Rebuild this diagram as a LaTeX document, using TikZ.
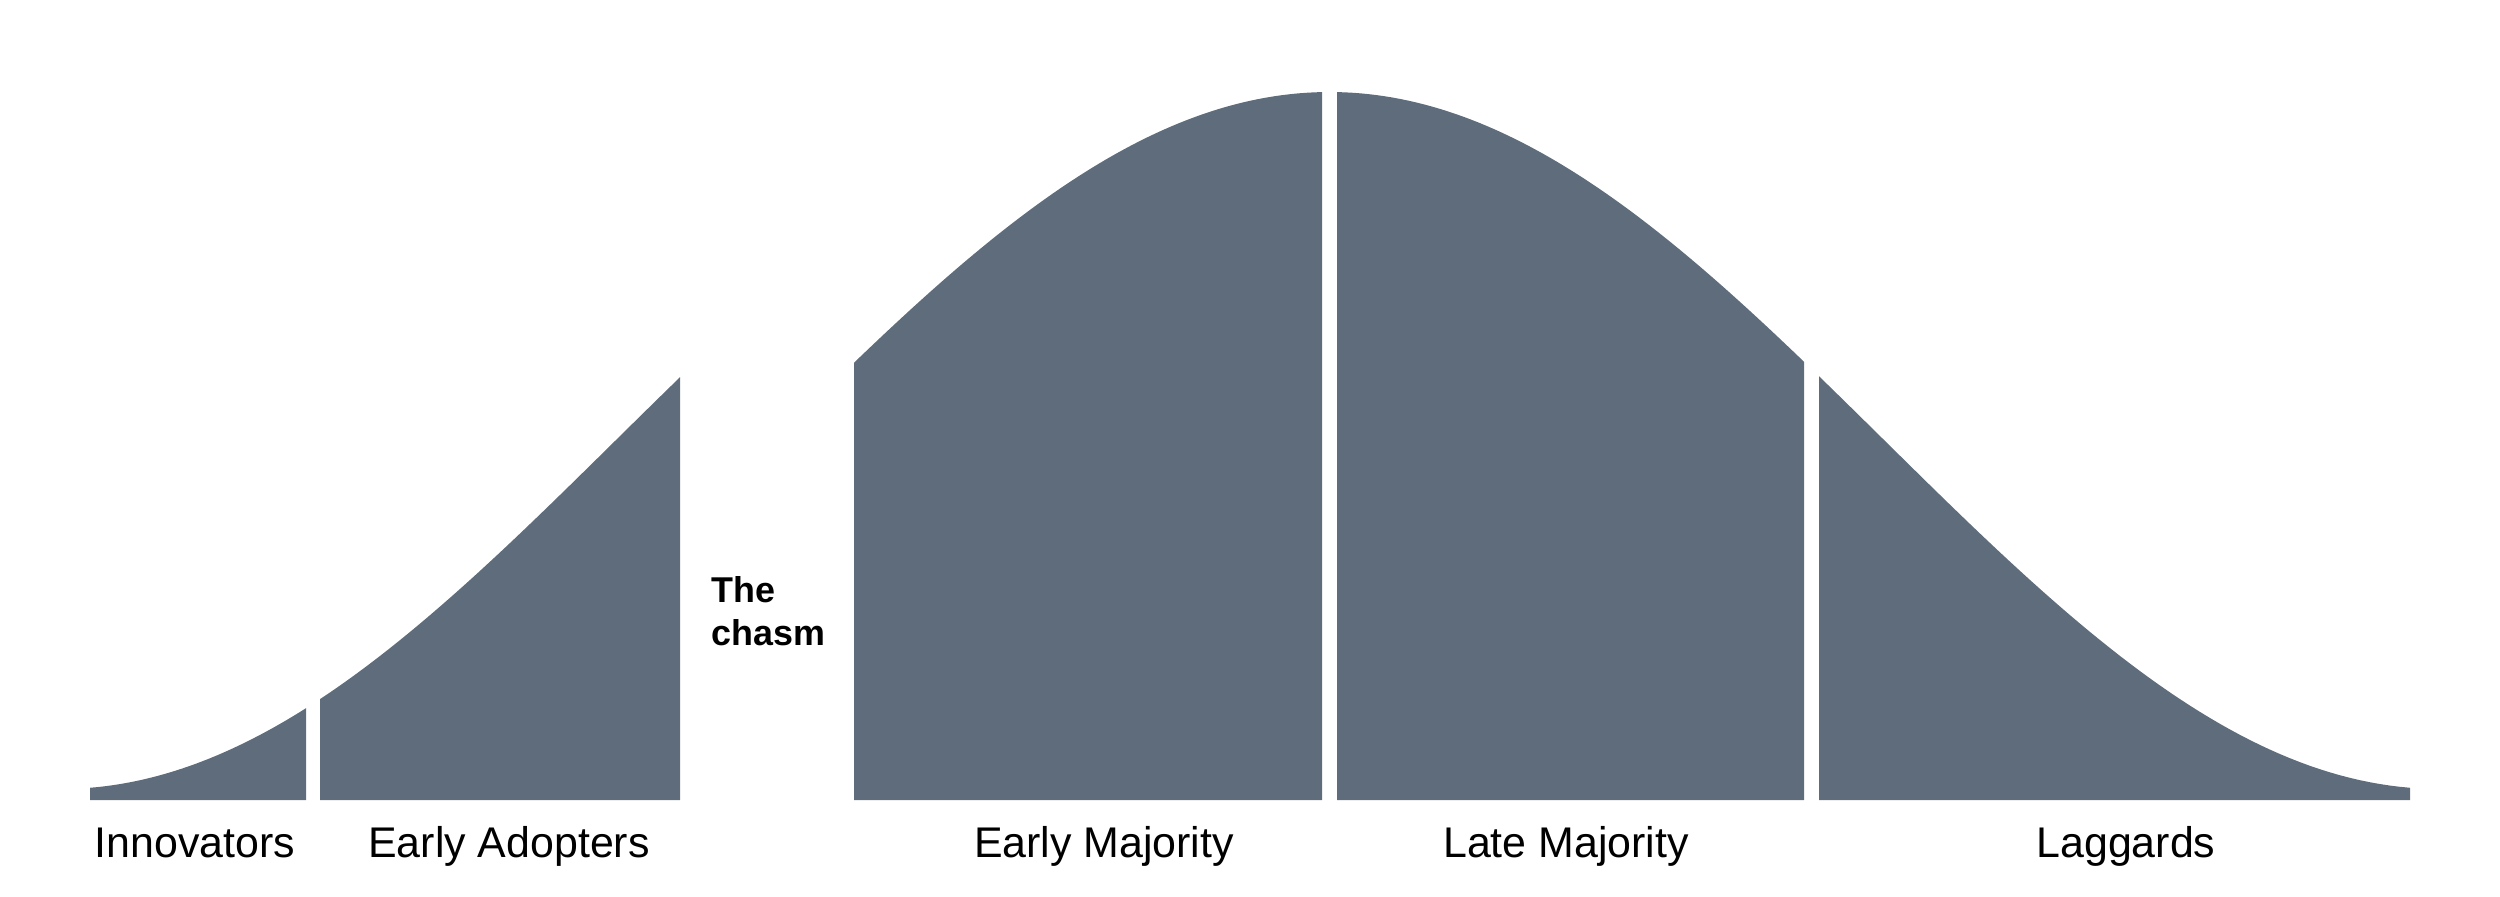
\documentclass[tikz,border=0pt]{standalone}
\usepackage{fontspec}
\setmainfont{Liberation Sans}
\usetikzlibrary{positioning}
\definecolor{slate}{HTML}{5E6C7B}

\begin{document}
\begin{tikzpicture}[
        x=0.01cm, y=-0.01cm,
        declare function={bell(\u)=789-348.5*(1+cos((\u-1329.5)/1110*180));},
        segment/.style={fill=slate},
        group/.style={font=\fontsize{12.2}{14}\selectfont, anchor=base},
        chasm/.style={font=\fontsize{10.2}{12.2}\selectfont\bfseries, align=left, anchor=base west, inner sep=0pt}
    ]
        \useasboundingbox (0,0) rectangle (2500,897);
        % segments of the curve: from / to / shift across the chasm
        \foreach \a/\b/\s in {90/306/159, 320/680/159, 854/1322/0, 1337/1804/0, 1819/2410/0}
            \fill[segment] (\a,800) -- plot[domain=\a:\b, samples=60] (\x, {bell(\x+\s)}) -- (\b,800) -- cycle;

        \node[group] (inno)  at (195,857)  {Innovators};
        \node[group] (early) at (509,857)  {Early Adopters};
        \node[group] (emaj)  at (1104,857) {Early Majority};
        \node[group] (lmaj)  at (1566,857) {Late Majority};
        \node[group] (lag)   at (2126,857) {Laggards};
        \node[chasm] (gap)   at (711,645)  {The\\chasm};
\end{tikzpicture}
\end{document}
